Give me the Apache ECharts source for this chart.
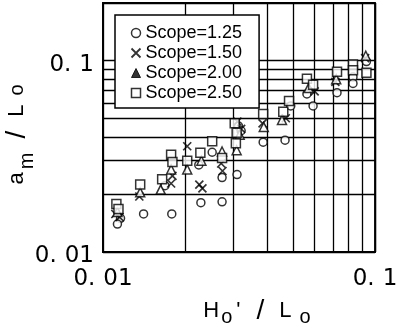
<!DOCTYPE html>
<html>
<head>
<meta charset="utf-8">
<script src="https://cdn.jsdelivr.net/npm/echarts@6/dist/echarts.min.js"></script>
<style>html,body{margin:0;padding:0;background:#fff}#c{width:400px;height:329px}</style>
</head>
<body>
<div id="c"></div>
<script>
const seriesNames = ['Scope=1.25', 'Scope=1.50', 'Scope=2.00', 'Scope=2.50'];
const xTickLabels = ['0.01', '0.1'];
const yTickLabels = ['0.01', '0.1'];
const xGridValues = [0.02, 0.03, 0.04, 0.05, 0.06, 0.07, 0.08, 0.09];
const yGridValues = [0.02, 0.03, 0.04, 0.05, 0.06, 0.07, 0.08, 0.09];

const scope125 = [[0.0116,0.0150],[0.0113,0.0140],[0.0141,0.0158],[0.0179,0.0158],[0.0169,0.0222],[0.0229,0.0181],[0.0225,0.0285],[0.0252,0.0332],[0.0274,0.0183],[0.0274,0.0245],[0.0311,0.0254],[0.0315,0.0455],[0.0322,0.0430],[0.0388,0.0375],[0.0467,0.0384],[0.0490,0.0580],[0.0562,0.0670],[0.0592,0.0580],[0.0725,0.0680],[0.0830,0.0820],[0.0830,0.0760],[0.0930,0.0988]];
const scope150 = [[0.0111,0.0158],[0.0115,0.0152],[0.0136,0.0195],[0.0178,0.0228],[0.0180,0.0250],[0.0204,0.0357],[0.0226,0.0225],[0.0232,0.0215],[0.0272,0.0290],[0.0275,0.0265],[0.0312,0.0480],[0.0322,0.0440],[0.0386,0.0470],[0.0470,0.0500],[0.0600,0.0690],[0.0715,0.0775],[0.0920,0.1030]];
const scope200 = [[0.0113,0.0162],[0.0137,0.0205],[0.0163,0.0212],[0.0178,0.0270],[0.0204,0.0270],[0.0230,0.0300],[0.0274,0.0335],[0.0318,0.0410],[0.0310,0.0340],[0.0390,0.0450],[0.0455,0.0490],[0.0570,0.0720],[0.0720,0.0800],[0.0925,0.1060]];
const scope250 = [[0.0112,0.0178],[0.0114,0.0168],[0.0137,0.0225],[0.0178,0.0322],[0.0180,0.0295],[0.0165,0.0240],[0.0204,0.0300],[0.0228,0.0330],[0.0252,0.0379],[0.0274,0.0310],[0.0305,0.0470],[0.0310,0.0420],[0.0308,0.0370],[0.0388,0.0526],[0.0483,0.0616],[0.0460,0.0540],[0.0562,0.0804],[0.0592,0.0747],[0.0725,0.0875],[0.0830,0.0953],[0.0830,0.0890],[0.0930,0.0865]];

const FONT = 'Liberation Sans';
const LFONT = 'DejaVu Sans';
function fmt(list) {
  return function (v) {
    for (const l of list) {
      if (Math.abs(Math.log10(v) - Math.log10(parseFloat(l))) < 1e-6) {
        const i = l.indexOf('.');
        return '{t|' + l.slice(0, i + 1) + '}{u|' + l.slice(i + 1) + '}';
      }
    }
    return '';
  };
}
const labelRich = {
  t: { fontFamily: LFONT, fontSize: 23, lineHeight: 18, color: '#000' },
  u: { fontFamily: LFONT, fontSize: 23, lineHeight: 18, color: '#000', padding: [0, 0, 0, 8] }
};
const crossPath = 'path://M0,0L10,10M10,0L0,10';
const hollow = { color: '#fff', borderColor: '#000', borderWidth: 1.5 };

const chart = echarts.init(document.getElementById('c'), null, { renderer: 'canvas' });
chart.setOption({
  animation: false,
  backgroundColor: '#fff',
  grid: { left: 103, right: 25, top: 3, bottom: 77, containLabel: false, outerBoundsMode: 'none', show: true, borderColor: '#000', borderWidth: 1.8, backgroundColor: 'transparent' },
  legend: {
    orient: 'vertical', left: 115, top: 15, z: 10,
    padding: [9, 17, 6, 14], itemGap: 2, itemWidth: 9, itemHeight: 9,
    backgroundColor: '#fff', borderColor: '#000', borderWidth: 1.5, borderRadius: 0,
    textStyle: { fontFamily: FONT, fontSize: 18, color: '#000' },
    data: [
      { name: seriesNames[0], icon: 'circle', itemStyle: hollow },
      { name: seriesNames[1], icon: crossPath, itemStyle: { color: 'none', borderColor: '#000', borderWidth: 1.8 } },
      { name: seriesNames[2], icon: 'triangle', itemStyle: { color: '#000', borderColor: '#000', borderWidth: 1 } },
      { name: seriesNames[3], icon: 'rect', itemStyle: hollow }
    ]
  },
  xAxis: {
    type: 'log', logBase: 10, min: 0.01, max: 0.1,
    axisLine: { lineStyle: { color: '#000', width: 1.8 } },
    axisTick: { show: false },
    splitLine: { show: true, lineStyle: { color: '#000', width: 1.3 } },
    axisLabel: { formatter: fmt(xTickLabels), rich: labelRich, margin: 18 },
    name: '{n|H}{s|o}{q|\'}{sl|/}{n|L}{s2|o}', nameLocation: 'middle', nameGap: 43, nameMoveOverlap: false,
    nameTextStyle: {
      padding: [0, 0, 0, 36],
      rich: {
        n: { fontFamily: FONT, fontSize: 22, color: '#000' },
        s: { fontFamily: FONT, fontSize: 20, color: '#000', padding: [12, 0, 0, 2] },
        s2: { fontFamily: FONT, fontSize: 20, color: '#000', padding: [12, 0, 0, 8] },
        q: { fontFamily: FONT, fontSize: 22, color: '#000', padding: [0, 0, 0, 4] },
        sl: { fontFamily: FONT, fontSize: 28, color: '#000', padding: [0, 15, 0, 16] }
      }
    }
  },
  yAxis: {
    type: 'log', logBase: 10, min: 0.01, max: 0.2,
    axisLine: { lineStyle: { color: '#000', width: 1.8 } },
    axisTick: { show: false },
    splitLine: { show: true, lineStyle: { color: '#000', width: 1.3 } },
    axisLabel: { formatter: fmt(yTickLabels), rich: labelRich, margin: 9, padding: [8, 0, 0, 0] },
    name: '{n|a}{s|m}{sl|/}{n|L}{o|o}', nameLocation: 'middle', nameGap: 66, nameMoveOverlap: false,
    nameTextStyle: {
      rich: {
        n: { fontFamily: FONT, fontSize: 22, color: '#000' },
        s: { fontFamily: FONT, fontSize: 20, color: '#000', padding: [20, 0, 0, 3] },
        sl: { fontFamily: FONT, fontSize: 28, color: '#000', padding: [0, 14, 0, 14] },
        o: { fontFamily: FONT, fontSize: 20, color: '#000', padding: [0, 14, 0, 9] }
      }
    }
  },
  series: [
    {
      type: 'line', data: [], z: 1, silent: true,
      markLine: {
        z: 1, silent: true, symbol: 'none', animation: false,
        label: { show: false },
        lineStyle: { color: '#000', type: 'solid', width: 1.3 },
        emphasis: { disabled: true },
        data: xGridValues.map(v => ({ xAxis: v })).concat(yGridValues.map(v => ({ yAxis: v })))
      }
    },
    { name: seriesNames[0], type: 'scatter', z: 3, symbol: 'circle', symbolSize: 8, itemStyle: hollow, data: scope125 },
    { name: seriesNames[1], type: 'scatter', z: 3, symbol: crossPath, symbolSize: 8, itemStyle: { color: 'none', borderColor: '#000', borderWidth: 1.7 }, data: scope150 },
    { name: seriesNames[2], type: 'scatter', z: 3, symbol: 'triangle', symbolSize: 9, itemStyle: hollow, data: scope200 },
    { name: seriesNames[3], type: 'scatter', z: 3, symbol: 'rect', symbolSize: 9, itemStyle: hollow, data: scope250 }
  ]
});
</script>
</body>
</html>
